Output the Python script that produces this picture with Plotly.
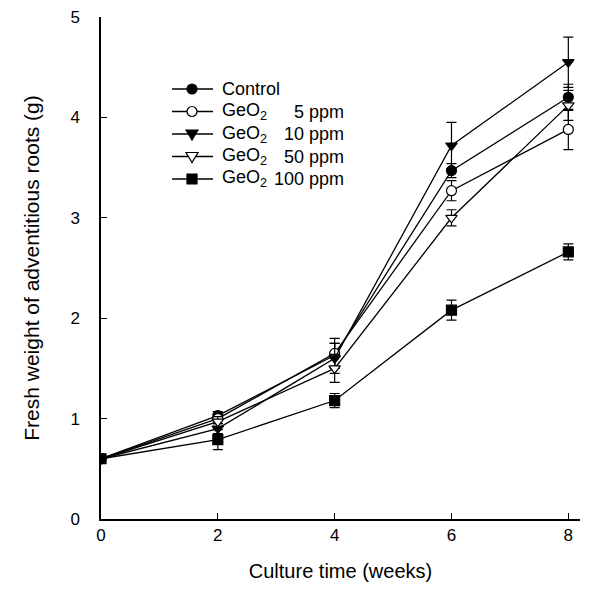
import plotly.graph_objects as go

weeks = [0, 2, 4, 6, 8]
control = [0.60, 1.03, 1.63, 3.47, 4.20]
control_err = [0.02, 0.04, 0.12, 0.07, 0.13]
geo5 = [0.60, 1.00, 1.65, 3.27, 3.88]
geo5_err = [0.02, 0.05, 0.15, 0.10, 0.20]
geo10 = [0.60, 0.90, 1.60, 3.72, 4.55]
geo10_err = [0.02, 0.05, 0.15, 0.23, 0.25]
geo50 = [0.60, 0.97, 1.50, 3.00, 4.12]
geo50_err = [0.02, 0.05, 0.14, 0.08, 0.15]
geo100 = [0.60, 0.79, 1.18, 2.08, 2.66]
geo100_err = [0.02, 0.10, 0.07, 0.10, 0.08]

names = ["Control", "GeO2 5 ppm", "GeO2 10 ppm", "GeO2 50 ppm", "GeO2 100 ppm"]
legend_left = ["Control", "GeO<sub>2</sub>", "GeO<sub>2</sub>", "GeO<sub>2</sub>", "GeO<sub>2</sub>"]
legend_right = ["", "5 ppm", "10 ppm", "50 ppm", "100 ppm"]
series = [control, geo5, geo10, geo50, geo100]
errors = [control_err, geo5_err, geo10_err, geo50_err, geo100_err]
symbols = ["circle", "circle-open", "triangle-down", "triangle-down-open", "square"]

# layout geometry (figure pixels)
W, H = 592, 582
ML, MR, MT, MB = 93, 20, 9, 71
PW, PH = W - ML - MR, H - MT - MB


def px_x(p):
    return (p - ML) / PW


def px_y(p):
    return 1 - (p - MT) / PH


fig = go.Figure()
for name, ys, es, sym in zip(names, series, errors, symbols):
    is_open = "open" in sym
    fig.add_trace(go.Scatter(
        x=weeks, y=ys, name=name, mode="lines+markers", showlegend=False,
        line=dict(color="black", width=1.3),
        marker=dict(symbol=sym.replace("-open", ""), size=10,
                    color="white" if is_open else "black",
                    line=dict(color="black", width=1.2)),
        error_y=dict(type="data", array=es, visible=True, color="black",
                     thickness=1.2, width=5),
    ))

# manual legend (tighter row spacing like the reference)
shapes, annotations = [], []
for i, (lt, rt, sym) in enumerate(zip(legend_left, legend_right, symbols)):
    yy = px_y(81 + 22.5 * i)
    shapes.append(dict(type="line", xref="paper", yref="paper",
                       x0=px_x(164), x1=px_x(205), y0=yy, y1=yy,
                       line=dict(color="black", width=1.3)))
    fill = "white" if "open" in sym else "black"
    common = dict(xref="paper", yref="paper", xsizemode="pixel", ysizemode="pixel",
                  xanchor=px_x(184), yanchor=yy, fillcolor=fill,
                  line=dict(color="black", width=1.2))
    if sym.startswith("circle"):
        shapes.append(dict(type="circle", x0=-5, x1=5, y0=-5, y1=5, **common))
    elif sym.startswith("triangle"):
        shapes.append(dict(type="path", path="M -6,4 L 6,4 L 0,-6 Z", **common))
    else:
        shapes.append(dict(type="rect", x0=-5, x1=5, y0=-5, y1=5, **common))
    annotations.append(dict(text=lt, xref="paper", yref="paper", x=px_x(212), y=yy,
                            xanchor="left", yanchor="middle", showarrow=False,
                            font=dict(size=18)))
    if rt:
        annotations.append(dict(text=rt, xref="paper", yref="paper", x=px_x(338), y=yy,
                                xanchor="right", yanchor="middle", showarrow=False,
                                font=dict(size=18)))

fig.update_layout(
    width=W, height=H,
    margin=dict(l=ML, r=MR, t=MT, b=MB),
    paper_bgcolor="white", plot_bgcolor="white",
    font=dict(family="Liberation Sans, Arial, sans-serif", size=17, color="black"),
    showlegend=False,
    shapes=shapes, annotations=annotations,
    xaxis=dict(range=[0, 8.2], tickvals=[0, 2, 4, 6, 8], ticks="inside",
               ticklen=6, tickcolor="black", showline=True, linecolor="black",
               linewidth=1.5, showgrid=False, zeroline=False, automargin=False,
               tickfont=dict(size=17),
               title=dict(text="Culture time (weeks)", font=dict(size=20), standoff=20)),
    yaxis=dict(range=[0, 5], tickvals=[0, 1, 2, 3, 4, 5], ticks="inside",
               ticklen=6, tickcolor="black", showline=True, linecolor="black",
               linewidth=1.5, showgrid=False, zeroline=False, automargin=False,
               tickfont=dict(size=17), ticklabelstandoff=16,
               ticklabeloverflow="allow",
               title=dict(text="Fresh weight of adventitious roots (g)",
                          font=dict(size=21), standoff=25)),
)

fig.write_html("out.html")
